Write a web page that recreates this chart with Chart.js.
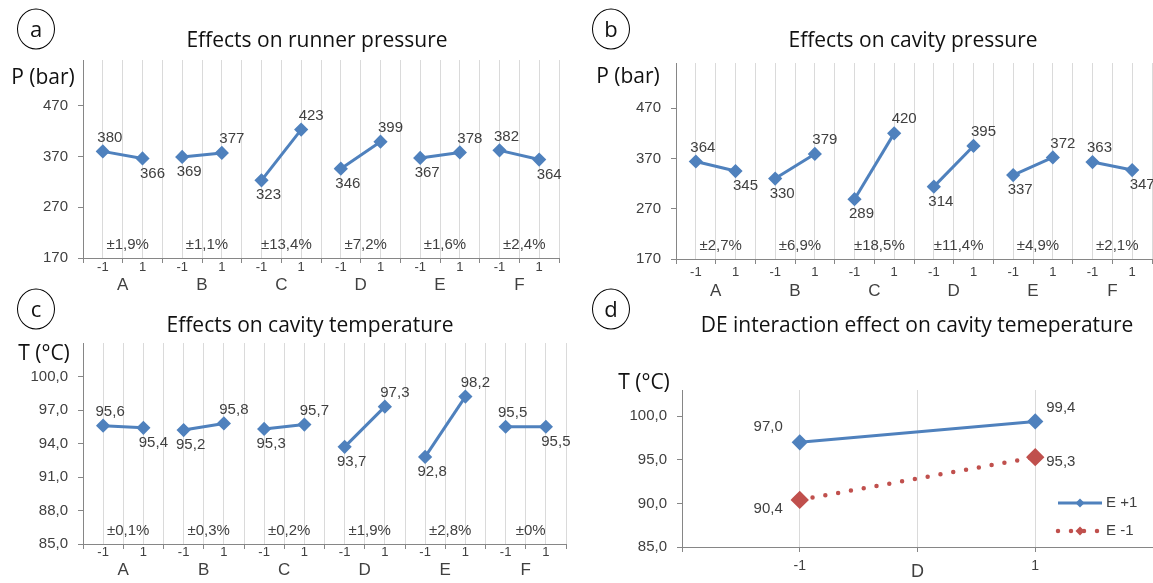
<!DOCTYPE html>
<html>
<head>
<meta charset="utf-8">
<script src="https://cdn.jsdelivr.net/npm/chart.js@4.4.0/dist/chart.umd.min.js"></script>
<style>
  html, body { margin: 0; padding: 0; background: #fff; }
  #page { position: relative; width: 1153px; height: 583px; overflow: hidden; font-family: "Open Sans", sans-serif; color: #111; }
  .panel { position: absolute; }
  .txt { position: absolute; transform: translate(-50%, -50%); white-space: nowrap; line-height: 1; font-size: 21px; }
  .badge { position: absolute; width: 36px; height: 36px; border: 1.6px solid #000; border-radius: 50%;
           transform: translate(-50%, -50%); display: flex; align-items: center; justify-content: center;
           font-size: 22px; line-height: 1; padding-bottom: 3px; box-sizing: content-box; }
</style>
</head>
<body>
<div id="page">
  <div class="panel" style="left:0;top:0;width:575px;height:290px"><canvas id="chartA"></canvas></div>
  <div class="panel" style="left:578px;top:0;width:575px;height:300px"><canvas id="chartB"></canvas></div>
  <div class="panel" style="left:0;top:290px;width:575px;height:293px"><canvas id="chartC"></canvas></div>
  <div class="panel" style="left:578px;top:290px;width:575px;height:293px"><canvas id="chartD"></canvas></div>

  <div class="badge" style="left:36px;top:29px">a</div>
  <div class="badge" style="left:611px;top:29px">b</div>
  <div class="badge" style="left:36px;top:309px">c</div>
  <div class="badge" style="left:611px;top:309px">d</div>

  <div class="txt" style="left:317px;top:39px">Effects on runner pressure</div>
  <div class="txt" style="left:913px;top:39px">Effects on cavity pressure</div>
  <div class="txt" style="left:310px;top:324px">Effects on cavity temperature</div>
  <div class="txt" style="left:917px;top:324px">DE interaction effect on cavity temeperature</div>

  <div class="txt" style="left:43px;top:76px">P (bar)</div>
  <div class="txt" style="left:628px;top:75px">P (bar)</div>
  <div class="txt" style="left:44px;top:352px">T (°C)</div>
  <div class="txt" style="left:644px;top:381px">T (°C)</div>
</div>
<script>
const factors = ['A', 'B', 'C', 'D', 'E', 'F'];

// (a) runner pressure, bar  (-1 level / +1 level)
const runnerLow  = [380, 369, 323, 346, 367, 382];
const runnerHigh = [366, 377, 423, 399, 378, 364];
const runnerPct  = ['±1,9%', '±1,1%', '±13,4%', '±7,2%', '±1,6%', '±2,4%'];

// (b) cavity pressure, bar
const cavityLow  = [364, 330, 289, 314, 337, 363];
const cavityHigh = [345, 379, 420, 395, 372, 347];
const cavityPct  = ['±2,7%', '±6,9%', '±18,5%', '±11,4%', '±4,9%', '±2,1%'];

// (c) cavity temperature, °C
const tempLow  = [95.6, 95.2, 95.3, 93.7, 92.8, 95.5];
const tempHigh = [95.4, 95.8, 95.7, 97.3, 98.2, 95.5];
const tempPct  = ['±0,1%', '±0,3%', '±0,2%', '±1,9%', '±2,8%', '±0%'];

// (d) DE interaction
const dLevels = [-1, 1];
const ePlus   = [97.0, 99.4];
const eMinus  = [90.4, 95.3];

const pressureTicks = [170, 270, 370, 470];
const tempTicks     = [85, 88, 91, 94, 97, 100];
const interTicks    = [85, 90, 95, 100];

const blue = '#4F81BD';
const red = '#C0504D';
const axisGrey = '#868686';
const gridGrey = '#dadada';
const labelGrey = '#404040';
const numFamily = '"Liberation Sans", Arial, sans-serif';
const clear = 'rgba(0,0,0,0)';
const yAxisWidth = 60;

const intFmt = v => String(v);
const decFmt = v => v.toFixed(1).replace('.', ',');

const valueLabels = {
    id: 'valueLabels',
    afterDatasetsDraw(chart, args, opts) {
        const ctx = chart.ctx;
        const area = chart.chartArea;
        ctx.save();
        ctx.font = '15px ' + numFamily;
        ctx.fillStyle = labelGrey;
        ctx.textBaseline = 'middle';
        chart.data.datasets.forEach((ds, di) => {
            chart.getDatasetMeta(di).data.forEach((pt, j) => {
                const v = ds.data[j].y;
                const other = ds.data[1 - j].y;
                let x, y;
                if (opts.mode === 'sides') {
                    ctx.textAlign = j === 0 ? 'right' : 'left';
                    x = pt.x + (j === 0 ? -17 : 11);
                    y = pt.y + opts.dy[di][j];
                } else {
                    const upper = v > other || (v === other && j === 0);
                    ctx.textAlign = 'center';
                    x = pt.x + (j === 0 ? 7 : 10);
                    y = pt.y + (upper ? -14 : 15);
                }
                ctx.fillText(opts.fmt(v), x, y);
            });
        });
        if (opts.notes) {
            const xs = chart.scales.x;
            ctx.textAlign = 'center';
            opts.notes.forEach((t, i) => ctx.fillText(t, xs.getPixelForValue(2 * i + 1) + 5, area.bottom - 13));
        }
        if (opts.legend) {
            chart.data.datasets.forEach((ds, di) => {
                const y = area.bottom - 44 + di * 28;
                const x0 = area.right - 95, x1 = area.right - 51;
                ctx.save();
                ctx.strokeStyle = ds.borderColor;
                ctx.lineWidth = ds.borderWidth;
                ctx.setLineDash(ds.borderDash || []);
                ctx.lineCap = ds.borderCapStyle || 'butt';
                ctx.beginPath();
                ctx.moveTo(x0, y);
                ctx.lineTo(x1, y);
                ctx.stroke();
                ctx.restore();
                const mx = (x0 + x1) / 2, r = 4.5;
                ctx.fillStyle = ds.borderColor;
                ctx.beginPath();
                ctx.moveTo(mx, y - r); ctx.lineTo(mx + r, y); ctx.lineTo(mx, y + r); ctx.lineTo(mx - r, y);
                ctx.closePath();
                ctx.fill();
                ctx.fillStyle = labelGrey;
                ctx.textAlign = 'left';
                ctx.fillText(ds.label, area.right - 47, y);
            });
        }
        ctx.restore();
    }
};

function yAxis(min, max, ticks, fmt) {
    return {
        min: min, max: max,
        afterBuildTicks: s => { s.ticks = ticks.map(v => ({ value: v })); },
        afterFit: s => { s.width = yAxisWidth; },
        grid: { drawOnChartArea: false, tickLength: 5, color: axisGrey },
        border: { color: axisGrey },
        ticks: { padding: 10, color: labelGrey, font: { size: 15, family: numFamily }, callback: v => fmt(v) }
    };
}

function pairChart(id, low, high, notes, yMin, yMax, yTicks, fmt, geo) {
    const datasets = factors.map((f, i) => ({
        label: f,
        data: [{ x: 2 * i + 0.5, y: low[i] }, { x: 2 * i + 1.5, y: high[i] }],
        borderColor: blue,
        backgroundColor: blue,
        borderWidth: 3,
        pointStyle: 'rectRot',
        pointRadius: 5,
        pointBackgroundColor: blue,
        pointBorderColor: blue
    }));
    return new Chart(document.getElementById(id), {
        type: 'line',
        data: { datasets },
        plugins: [valueLabels],
        options: {
            animation: false,
            responsive: true,
            maintainAspectRatio: false,
            layout: { padding: geo.pad, autoPadding: false },
            plugins: {
                legend: { display: false },
                tooltip: { enabled: false },
                valueLabels: { mode: 'pair', fmt: fmt, notes: notes }
            },
            scales: {
                x: {
                    type: 'linear', min: 0, max: 12,
                    afterFit: s => { s.height = geo.xh; s.paddingRight = 0; },
                    grid: {
                        color: c => c.tick && c.tick.value > 0 ? gridGrey : clear,
                        tickColor: c => c.tick && Number.isInteger(c.tick.value) ? axisGrey : clear,
                        tickLength: 5
                    },
                    border: { color: axisGrey },
                    ticks: {
                        stepSize: 0.5, autoSkip: false, maxRotation: 0, padding: geo.xp,
                        color: labelGrey, font: { size: 13, family: numFamily },
                        callback: v => { const r = v % 2; return r === 0.5 ? '-1' : r === 1.5 ? '1' : ''; }
                    }
                },
                g: {
                    axis: 'x', type: 'linear', position: 'bottom', min: 0, max: 12, weight: 1,
                    afterBuildTicks: s => { s.ticks = factors.map((f, i) => ({ value: 2 * i + 1 })); },
                    afterFit: s => { s.height = geo.gh; s.paddingRight = 0; },
                    grid: { display: false, drawTicks: false },
                    border: { display: false },
                    ticks: {
                        autoSkip: false, maxRotation: 0, padding: geo.gp,
                        color: labelGrey, font: { size: 17, family: numFamily },
                        callback: (v, i) => factors[i]
                    }
                },
                y: yAxis(yMin, yMax, yTicks, fmt)
            }
        }
    });
}

pairChart('chartA', runnerLow, runnerHigh, runnerPct, 170, 560, pressureTicks, intFmt,
    { pad: { left: 83 - yAxisWidth, right: 16, top: 60, bottom: 0 }, xh: 16, gh: 16, xp: -3, gp: 1 });
pairChart('chartB', cavityLow, cavityHigh, cavityPct, 170, 560, pressureTicks, intFmt,
    { pad: { left: 98 - yAxisWidth, right: 1, top: 63, bottom: 0 }, xh: 20, gh: 21, xp: 1, gp: 2 });
pairChart('chartC', tempLow, tempHigh, tempPct, 85, 103, tempTicks, decFmt,
    { pad: { left: 83 - yAxisWidth, right: 9, top: 53, bottom: 0 }, xh: 16, gh: 23, xp: -4, gp: 0 });

new Chart(document.getElementById('chartD'), {
    type: 'line',
    data: {
        datasets: [{
            label: 'E +1',
            data: dLevels.map((x, j) => ({ x: x, y: ePlus[j] })),
            borderColor: blue,
            backgroundColor: blue,
            borderWidth: 3,
            pointStyle: 'rectRot',
            pointRadius: 6,
            pointBackgroundColor: blue,
            pointBorderColor: blue
        }, {
            label: 'E -1',
            data: dLevels.map((x, j) => ({ x: x, y: eMinus[j] })),
            borderColor: red,
            backgroundColor: red,
            borderWidth: 4.5,
            borderDash: [0, 13],
            borderCapStyle: 'round',
            pointStyle: 'rectRot',
            pointRadius: 6,
            pointBackgroundColor: red,
            pointBorderColor: red
        }]
    },
    plugins: [valueLabels],
    options: {
        animation: false,
        responsive: true,
        maintainAspectRatio: false,
        layout: { padding: { left: 104 - yAxisWidth, right: 0, top: 100, bottom: 0 }, autoPadding: false },
        plugins: {
            legend: { display: false },
            tooltip: { enabled: false },
            valueLabels: { mode: 'sides', fmt: decFmt, dy: [[-15, -14], [9, 5]], legend: true }
        },
        scales: {
            x: {
                type: 'linear', min: -2, max: 2,
                afterFit: s => { s.height = 36; s.paddingRight = 0; },
                grid: { color: c => c.tick && c.tick.value > -2 ? gridGrey : clear, tickColor: axisGrey, tickLength: 5 },
                border: { color: axisGrey },
                ticks: {
                    stepSize: 1, autoSkip: false, maxRotation: 0, padding: 6,
                    color: labelGrey, font: { size: 14, family: numFamily },
                    callback: v => dLevels.includes(v) ? String(v) : ''
                },
                title: { display: true, text: 'D', color: labelGrey, padding: 0, font: { size: 18, family: numFamily } }
            },
            y: yAxis(85, 103, interTicks, decFmt)
        }
    }
});
</script>
</body>
</html>
